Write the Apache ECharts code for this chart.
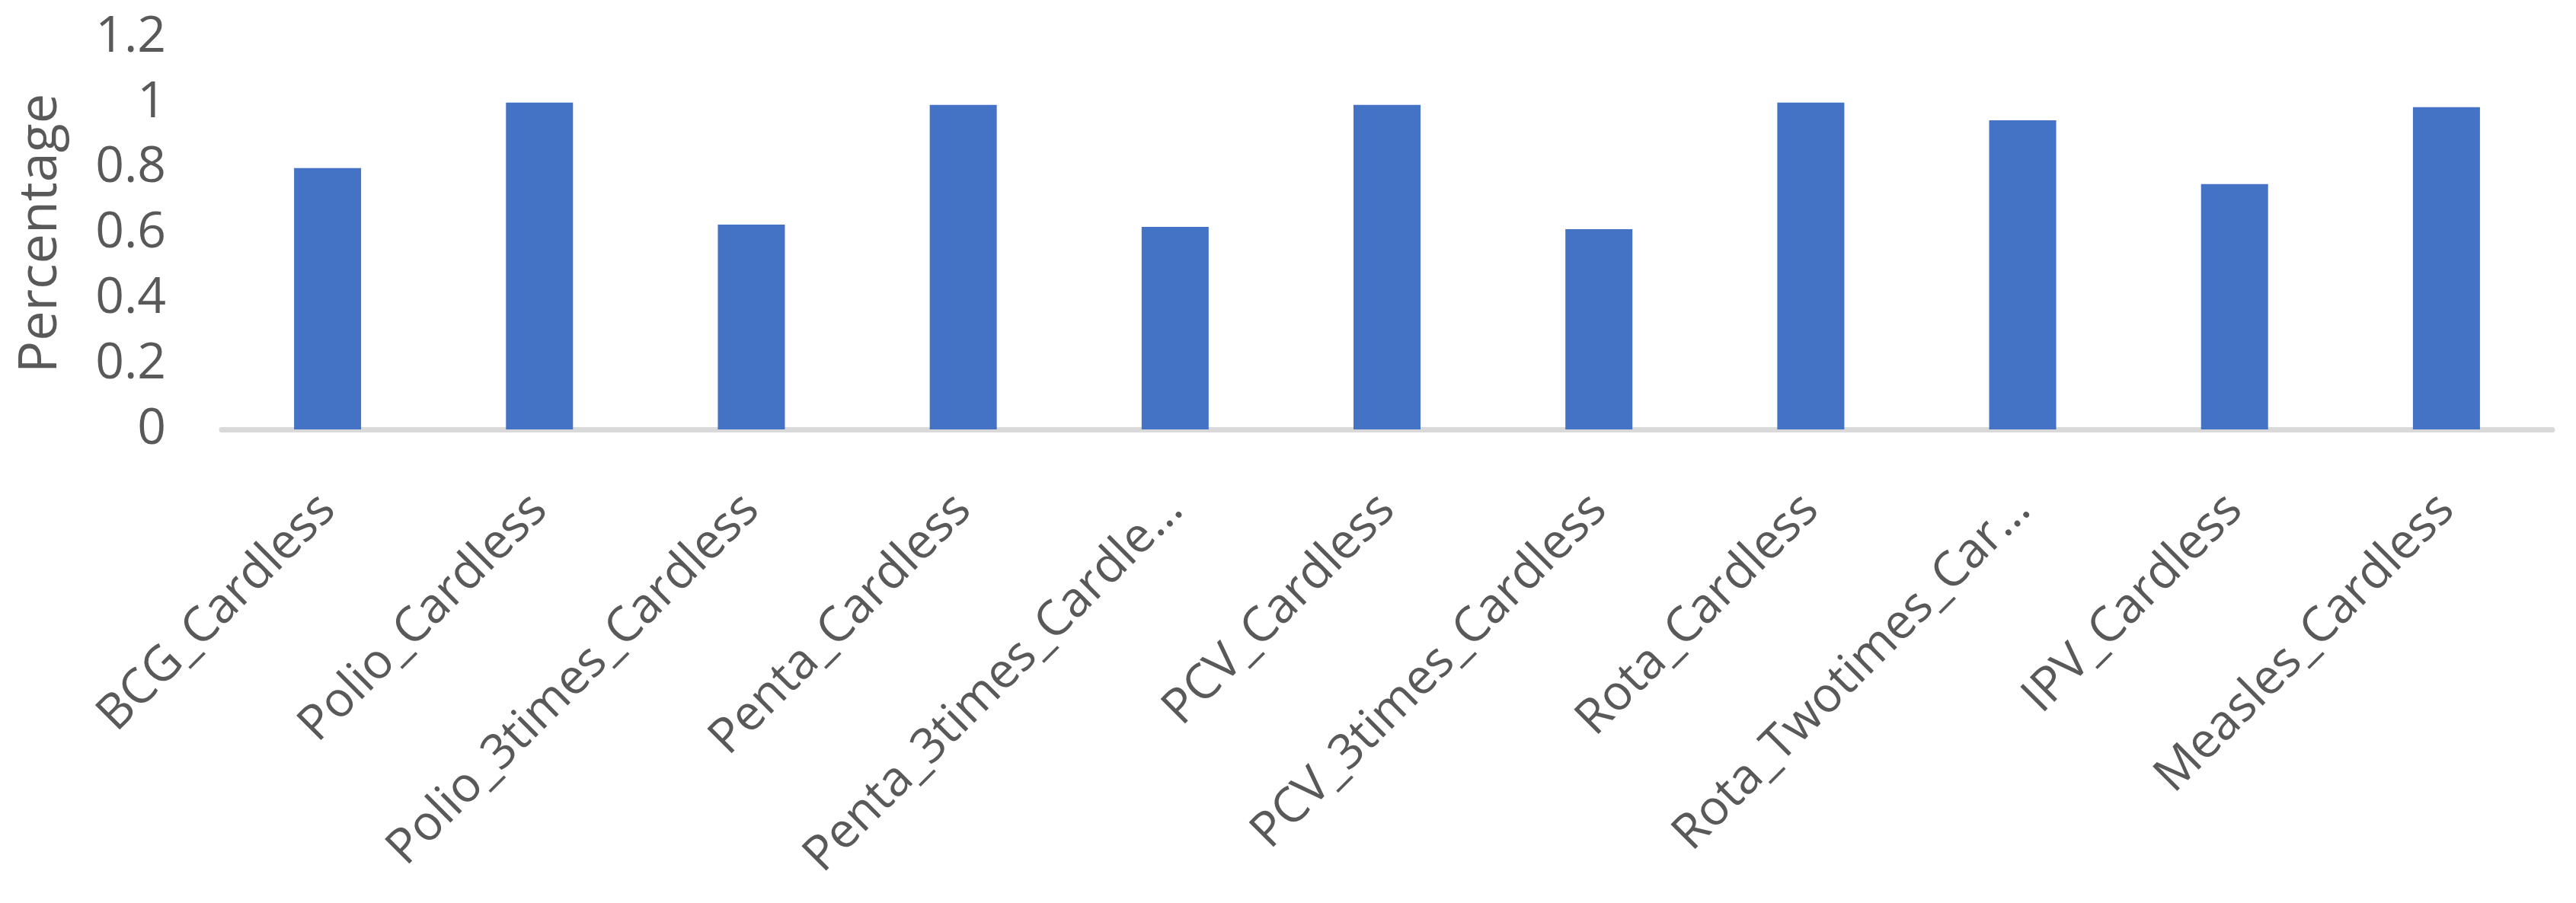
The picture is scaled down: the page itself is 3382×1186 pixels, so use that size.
<!DOCTYPE html>
<html>
<head>
<meta charset="utf-8">
<script src="https://cdn.jsdelivr.net/npm/echarts@6/dist/echarts.min.js"></script>
<style>
    html, body {margin: 0; padding: 0; background: #ffffff;}
    #chart {width: 3382px; height: 1186px;}
</style>
</head>
<body>
<div id="chart"></div>
<script>
// vaccine categories and what the axis shows for each (Excel cut two of them)
const categories = ['BCG_Cardless', 'Polio_Cardless', 'Polio_3times_Cardless', 'Penta_Cardless',
    'Penta_3times_Cardless', 'PCV_Cardless', 'PCV_3times_Cardless', 'Rota_Cardless',
    'Rota_Twotimes_Cardless', 'IPV_Cardless', 'Measles_Cardless'];
const tickLabels = ['BCG_Cardless', 'Polio_Cardless', 'Polio_3times_Cardless', 'Penta_Cardless',
    'Penta_3times_Cardle…', 'PCV_Cardless', 'PCV_3times_Cardless', 'Rota_Cardless',
    'Rota_Twotimes_Car…', 'IPV_Cardless', 'Measles_Cardless'];
const percentage = [0.80, 1.00, 0.627, 0.993, 0.62, 0.993, 0.613, 1.00, 0.946, 0.751, 0.986];
const yTicks = [0, 0.2, 0.4, 0.6, 0.8, 1, 1.2];

const textColor = '#595959';
const fontFamily = '"Open Sans", "Noto Sans", sans-serif';

const myChart = echarts.init(document.getElementById('chart'));

let option = {
    backgroundColor: '#ffffff',
    animation: false,
    grid: {
        left: 291,
        right: 31,
        top: 49,
        bottom: 622,
        containLabel: false
    },
    xAxis: {
        type: 'category',
        data: categories,
        offset: 3.5,
        axisLine: {
            show: true,
            lineStyle: {color: '#D9D9D9', width: 7}
        },
        axisTick: {show: false},
        axisLabel: {
            interval: 0,
            rotate: 45,
            margin: 92,
            color: textColor,
            fontFamily: fontFamily,
            fontSize: 64,
            formatter: function (value, idx) {
                return tickLabels[idx];
            }
        }
    },
    yAxis: {
        type: 'value',
        min: yTicks[0],
        max: yTicks[yTicks.length - 1],
        interval: 0.2,
        name: 'Percentage',
        nameLocation: 'middle',
        nameGap: 202,
        nameTextStyle: {
            color: textColor,
            fontFamily: fontFamily,
            fontSize: 70
        },
        splitLine: {show: false},
        axisLine: {show: false},
        axisTick: {show: false},
        axisLabel: {
            margin: 73,
            color: textColor,
            fontFamily: fontFamily,
            fontSize: 66,
            formatter: function (value) {
                return String(+value.toFixed(1));
            }
        }
    },
    series: [{
        type: 'bar',
        data: percentage,
        barWidth: 88,
        itemStyle: {color: '#4472C4'}
    }]
};

myChart.setOption(option);
</script>
</body>
</html>
